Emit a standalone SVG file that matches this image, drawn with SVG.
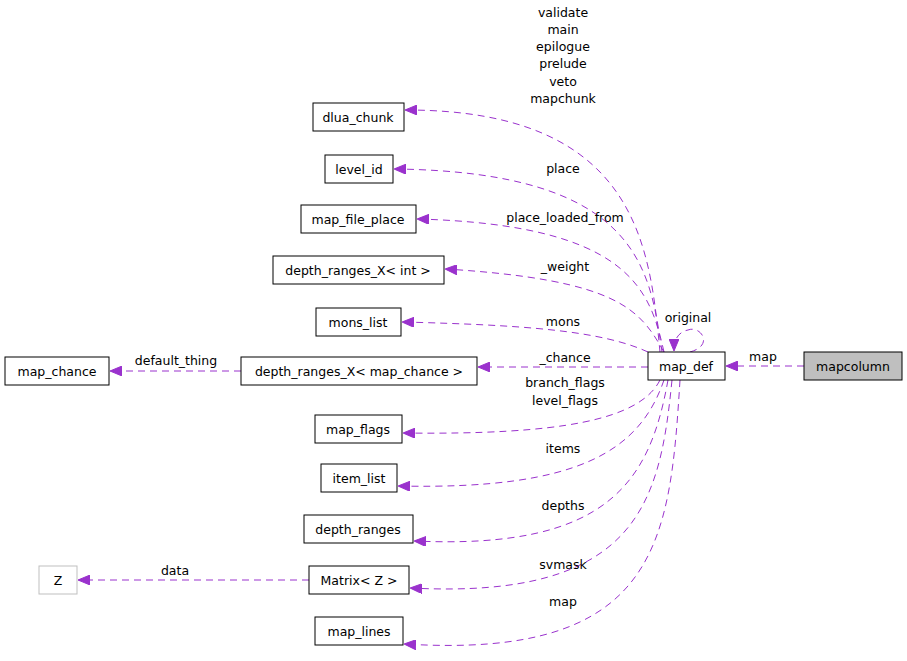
<svg xmlns="http://www.w3.org/2000/svg" width="907" height="661" viewBox="0 0 907 661">
<style>
.n rect{fill:#fff;stroke:#000;stroke-width:1}
text{font-family:"DejaVu Sans",sans-serif;font-size:12.5px;fill:#000}
.n text{text-anchor:middle}
.e path{fill:none;stroke:#9a32cd;stroke-width:1;stroke-dasharray:7,5}
.l{text-anchor:middle}
</style>
<defs><marker id="a" markerWidth="12" markerHeight="10" refX="11" refY="5" orient="auto" markerUnits="userSpaceOnUse"><path d="M0,0 L12,5 L0,10z" fill="#9a32cd" stroke="#9a32cd"/></marker></defs>
<rect width="907" height="661" fill="#fff"/>
<g class="e">
<path d="M804,366 H727" marker-end="url(#a)"/>
<path d="M660,352 C650,250 640,110 406,110" marker-end="url(#a)"/>
<path d="M662,352 C650,270 640,172 395,169" marker-end="url(#a)"/>
<path d="M664,352 C650,290 630,225 418,219" marker-end="url(#a)"/>
<path d="M664,352 C640,310 620,280 446,269" marker-end="url(#a)"/>
<path d="M648,352 C600,330 520,325 403,322" marker-end="url(#a)"/>
<path d="M648,367 H479" marker-end="url(#a)"/>
<path d="M241,371 H111" marker-end="url(#a)"/>
<path d="M660,380 C640,420 560,435 404,433" marker-end="url(#a)"/>
<path d="M664,380 C640,450 580,490 399,486" marker-end="url(#a)"/>
<path d="M668,380 C650,480 610,550 415,541" marker-end="url(#a)"/>
<path d="M672,380 C660,500 640,600 411,588" marker-end="url(#a)"/>
<path d="M680,380 C670,540 660,660 405,644" marker-end="url(#a)"/>
<path d="M309,580 H79" marker-end="url(#a)"/>
<path d="M690,352 C715,345 700,325 688,330 C678,332 674,340 674,350" marker-end="url(#a)"/>
</g>
<g class="l">
<text x="563" y="17">validate</text><text x="563" y="34">main</text><text x="563" y="51">epilogue</text><text x="563" y="68">prelude</text><text x="563" y="86">veto</text><text x="563" y="103">mapchunk</text>
<text x="563" y="173">place</text>
<text x="565" y="222">place_loaded_from</text>
<text x="565" y="271">_weight</text>
<text x="563" y="326">mons</text>
<text x="565" y="362">_chance</text>
<text x="565" y="387">branch_flags</text><text x="565" y="405">level_flags</text>
<text x="563" y="453">items</text>
<text x="563" y="510">depths</text>
<text x="563" y="569">svmask</text>
<text x="563" y="606">map</text>
<text x="688" y="322">original</text>
<text x="763" y="361">map</text>
<text x="176" y="365">default_thing</text>
<text x="175" y="575">data</text>
</g>
<g class="n" id="mapcolumn"><rect x="804" y="352" width="98" height="28" style="fill:#bfbfbf"/><text x="853" y="371">mapcolumn</text></g>
<g class="n" id="map_def"><rect x="648" y="352" width="77" height="28"/><text x="686" y="371">map_def</text></g>
<g class="n" id="dlua_chunk"><rect x="313" y="103" width="91" height="28"/><text x="358" y="122">dlua_chunk</text></g>
<g class="n" id="level_id"><rect x="325" y="155" width="68" height="28"/><text x="359" y="174">level_id</text></g>
<g class="n" id="map_file_place"><rect x="301" y="205" width="115" height="28"/><text x="358" y="224">map_file_place</text></g>
<g class="n" id="drx_int"><rect x="273" y="256" width="171" height="28"/><text x="358" y="275">depth_ranges_X&lt; int &gt;</text></g>
<g class="n" id="mons_list"><rect x="316" y="308" width="85" height="28"/><text x="358" y="327">mons_list</text></g>
<g class="n" id="drx_mc"><rect x="241" y="357" width="236" height="28"/><text x="359" y="376">depth_ranges_X&lt; map_chance &gt;</text></g>
<g class="n" id="map_chance"><rect x="5" y="357" width="104" height="28"/><text x="57" y="376">map_chance</text></g>
<g class="n" id="map_flags"><rect x="315" y="415" width="87" height="28"/><text x="358" y="434">map_flags</text></g>
<g class="n" id="item_list"><rect x="321" y="464" width="76" height="28"/><text x="359" y="483">item_list</text></g>
<g class="n" id="depth_ranges"><rect x="304" y="515" width="109" height="28"/><text x="358" y="534">depth_ranges</text></g>
<g class="n" id="matrix"><rect x="309" y="566" width="100" height="28"/><text x="359" y="585">Matrix&lt; Z &gt;</text></g>
<g class="n" id="Z"><rect x="39" y="566" width="38" height="28" style="stroke:#bfbfbf"/><text x="58" y="585">Z</text></g>
<g class="n" id="map_lines"><rect x="315" y="617" width="88" height="28"/><text x="359" y="636">map_lines</text></g>
</svg>
